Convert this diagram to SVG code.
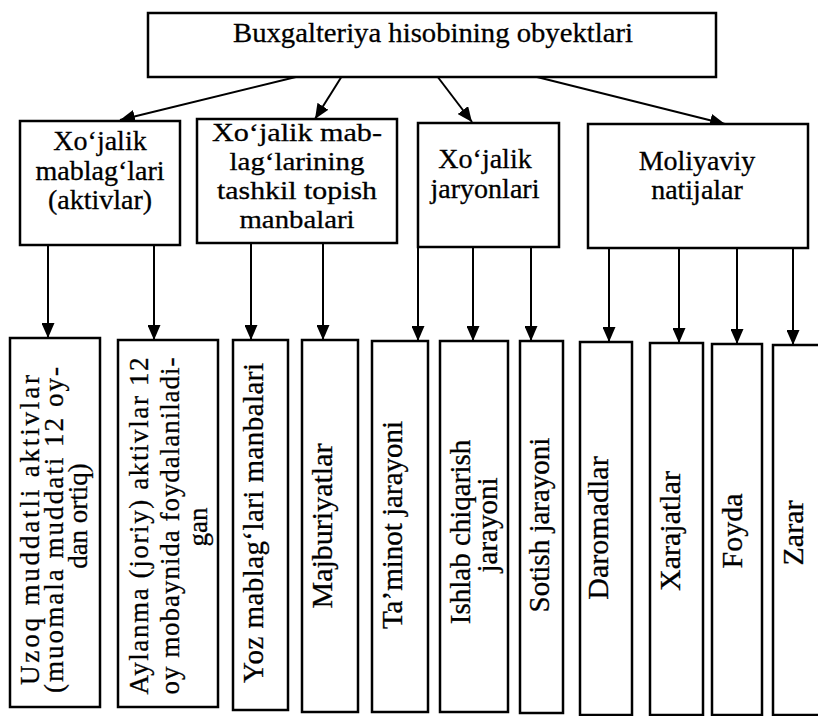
<svg xmlns="http://www.w3.org/2000/svg" width="818" height="716" viewBox="0 0 818 716">
<defs>
<style>
.box{fill:#fff;stroke:#000;stroke-width:2.5}
.t{font-family:"Liberation Serif","Times New Roman",serif;fill:#000;text-anchor:middle;stroke:#000;stroke-width:0.3}
.t28{font-size:28px}
.t26{font-size:26px}
.t27{font-size:27px}
.t29{font-size:29px}
.t30{font-size:30px}
.c{stroke:#000;stroke-width:2;fill:none;marker-end:url(#ah)}
</style>
<marker id="ah" markerUnits="userSpaceOnUse" markerWidth="15" markerHeight="13" refX="15" refY="6.5" orient="auto">
<path d="M0,0 L15,6.5 L0,13 z" fill="#000"/>
</marker>
</defs>
<rect width="818" height="716" fill="#fff"/>

<g id="connectors">
<line class="c" x1="300" y1="76" x2="120" y2="120"/>
<line class="c" x1="342" y1="76" x2="315" y2="119"/>
<line class="c" x1="437" y1="76" x2="472" y2="122"/>
<line class="c" x1="533" y1="76" x2="725" y2="124"/>
<line class="c" x1="48" y1="245" x2="48" y2="338"/>
<line class="c" x1="154" y1="245" x2="154" y2="340"/>
<line class="c" x1="251" y1="243" x2="251" y2="340"/>
<line class="c" x1="323" y1="243" x2="323" y2="340"/>
<line class="c" x1="418" y1="247" x2="418" y2="341"/>
<line class="c" x1="473" y1="247" x2="473" y2="341"/>
<line class="c" x1="531" y1="247" x2="531" y2="341"/>
<line class="c" x1="609" y1="248" x2="609" y2="342"/>
<line class="c" x1="679" y1="248" x2="679" y2="343"/>
<line class="c" x1="737" y1="248" x2="737" y2="344"/>
<line class="c" x1="793" y1="248" x2="793" y2="345"/>
</g>

<g id="root">
<rect class="box" x="148" y="13" width="568" height="64"/>
<text class="t t28" x="433" y="42" textLength="400" lengthAdjust="spacingAndGlyphs">Buxgalteriya hisobining obyektlari</text>
</g>

<g id="aktivlar">
<rect class="box" x="20" y="121" width="160" height="124"/>
<text class="t t28" x="100" y="150">Xo‘jalik</text>
<text class="t t28" x="100" y="180">mablag‘lari</text>
<text class="t t28" x="100" y="209">(aktivlar)</text>
</g>

<g id="manbalar">
<rect class="box" x="197" y="119" width="200" height="124"/>
<text class="t t26" x="297" y="141" textLength="170" lengthAdjust="spacingAndGlyphs">Xo‘jalik mab-</text>
<text class="t t26" x="297" y="170" textLength="135" lengthAdjust="spacingAndGlyphs">lag‘larining</text>
<text class="t t26" x="297" y="199" textLength="160" lengthAdjust="spacingAndGlyphs">tashkil topish</text>
<text class="t t26" x="297" y="228" textLength="115" lengthAdjust="spacingAndGlyphs">manbalari</text>
</g>

<g id="jarayonlar">
<rect class="box" x="418" y="123" width="141" height="124"/>
<text class="t t28" x="485" y="168">Xo‘jalik</text>
<text class="t t28" x="485" y="198">jaryonlari</text>
</g>

<g id="natijalar">
<rect class="box" x="588" y="124" width="220" height="124"/>
<text class="t t28" x="697" y="170">Moliyaviy</text>
<text class="t t28" x="697" y="199">natijalar</text>
</g>

<g id="uzoq">
<rect class="box" x="10" y="338" width="90" height="369"/>
<text class="t t27" transform="translate(39,530) rotate(-90)" textLength="310" lengthAdjust="spacing">Uzoq muddatli aktivlar</text>
<text class="t t27" transform="translate(63,530) rotate(-90)" textLength="326" lengthAdjust="spacing">(muomala muddati 12 oy-</text>
<text class="t t27" transform="translate(87,516) rotate(-90)">dan ortiq)</text>
</g>

<g id="aylanma">
<rect class="box" x="118" y="340" width="100" height="367"/>
<text class="t t27" transform="translate(148,526) rotate(-90)" textLength="337" lengthAdjust="spacing">Aylanma (joriy) aktivlar 12</text>
<text class="t t27" transform="translate(179,526) rotate(-90)" textLength="337" lengthAdjust="spacing">oy mobaynida foydalaniladi-</text>
<text class="t t27" transform="translate(207,527) rotate(-90)">gan</text>
</g>

<g id="yoz">
<rect class="box" x="233" y="340" width="55" height="370"/>
<text class="t t29" transform="translate(263,523) rotate(-90)" textLength="320" lengthAdjust="spacing">Yoz mablag‘lari manbalari</text>
</g>

<g id="majburiyatlar">
<rect class="box" x="302" y="340" width="56" height="372"/>
<text class="t t30" transform="translate(332,526) rotate(-90)">Majburiyatlar</text>
</g>

<g id="taminot">
<rect class="box" x="372" y="341" width="56" height="371"/>
<text class="t t29" transform="translate(402,525) rotate(-90)">Ta’minot jarayoni</text>
</g>

<g id="ishlab">
<rect class="box" x="440" y="341" width="68" height="371"/>
<text class="t t29" transform="translate(470,532) rotate(-90)">Ishlab chiqarish</text>
<text class="t t29" transform="translate(497,525) rotate(-90)">jarayoni</text>
</g>

<g id="sotish">
<rect class="box" x="520" y="341" width="43" height="372"/>
<text class="t t29" transform="translate(549,525) rotate(-90)">Sotish jarayoni</text>
</g>

<g id="daromadlar">
<rect class="box" x="580" y="342" width="52" height="373"/>
<text class="t t30" transform="translate(608,528) rotate(-90)">Daromadlar</text>
</g>

<g id="xarajatlar">
<rect class="box" x="650" y="343" width="53" height="372"/>
<text class="t t30" transform="translate(680,531) rotate(-90)">Xarajatlar</text>
</g>

<g id="foyda">
<rect class="box" x="712" y="344" width="50" height="371"/>
<text class="t t30" transform="translate(742,531) rotate(-90)">Foyda</text>
</g>

<g id="zarar">
<rect class="box" x="773" y="345" width="50" height="370"/>
<text class="t t30" transform="translate(803,533) rotate(-90)">Zarar</text>
</g>
</svg>
